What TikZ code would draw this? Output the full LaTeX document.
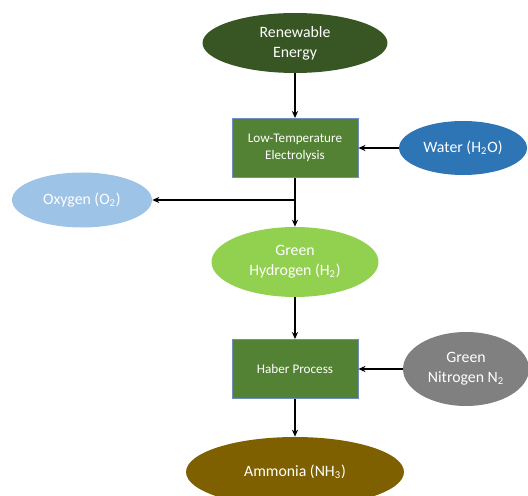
\documentclass[tikz,border=0pt]{standalone}
\usepackage{fontspec}
\setmainfont{Carlito}
\usepackage{xcolor}
\usetikzlibrary{shapes.geometric,arrows.meta}

\definecolor{darkgreen}{HTML}{375623}
\definecolor{midgreen}{HTML}{548235}
\definecolor{limegreen}{HTML}{92D050}
\definecolor{waterblue}{HTML}{2E75B6}
\definecolor{skyblue}{HTML}{9DC3E6}
\definecolor{boxedge}{HTML}{6F8FC0}
\definecolor{ammoniabrown}{HTML}{7F6000}

\tikzset{
    bubble/.style={ellipse, inner sep=0pt, text=white, align=center,
        font=\fontsize{9}{11.5}\selectfont},
    stagebox/.style={rectangle, draw=boxedge, line width=0.5pt, fill=midgreen,
        text=white, align=center, inner sep=0pt,
        minimum width=2.52cm, minimum height=1.18cm,
        font=\fontsize{7.5}{9.5}\selectfont},
    flow/.style={-{Stealth[length=4pt,width=3.5pt]}, line width=0.8pt}
}

\begin{document}
\begin{tikzpicture}[x=0.02cm, y=-0.02cm]
    \useasboundingbox (0,0) rectangle (528,496);
    \node[bubble, fill=darkgreen, minimum width=3.7cm, minimum height=1.2cm] (renew) at (295,43) {Renewable\\Energy};
    \node[stagebox] (elec) at (295,148) {Low-Temperature\\Electrolysis};
    \node[bubble, fill=waterblue, minimum width=2.56cm, minimum height=1.08cm] (water) at (463,148) {Water (H\textsubscript{2}O)};
    \node[bubble, fill=skyblue, minimum width=2.8cm, minimum height=1.1cm] (oxy) at (82,200) {Oxygen (O\textsubscript{2})};
    \node[bubble, fill=limegreen, minimum width=3.34cm, minimum height=1.4cm] (hyd) at (295,262) {Green\\Hydrogen (H\textsubscript{2})};
    \node[stagebox] (haber) at (295,369) {Haber Process};
    \node[bubble, fill=gray, minimum width=2.52cm, minimum height=1.48cm] (nitro) at (466,369) {Green\\Nitrogen N\textsubscript{2}};
    \node[bubble, fill=ammoniabrown, minimum width=4.36cm, minimum height=1.4cm] (ammonia) at (295,472) {Ammonia (NH\textsubscript{3})};
    \coordinate (split) at (295,200);

    \draw[flow] (renew) -- (elec);
    \draw[flow] (water) -- (elec);
    \draw[flow] (elec) -- (hyd);
    \draw[flow] (split) -- (oxy.east);
    \draw[flow] (hyd) -- (haber);
    \draw[flow] (nitro) -- (haber);
    \draw[flow] (haber) -- (ammonia);
\end{tikzpicture}
\end{document}
